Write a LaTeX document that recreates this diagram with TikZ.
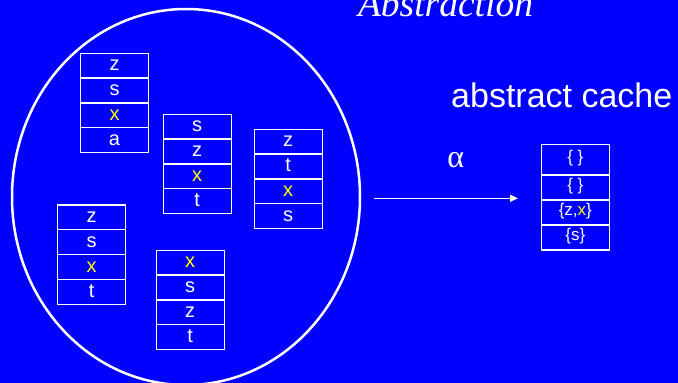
\documentclass[tikz,border=0pt]{standalone}
\usepackage{fontspec}
\setmainfont{Liberation Sans}
\newfontfamily\seriffont{Liberation Serif}
\usetikzlibrary{arrows.meta,shapes.geometric}
\definecolor{bg}{RGB}{0,0,255}
\definecolor{hl}{RGB}{255,255,0}
\begin{document}
\begin{tikzpicture}[x=1pt,y=-1pt,
  cell/.style={draw=white,line width=1.3pt,minimum width=68pt,minimum height=24.8pt,
    inner sep=0pt,outer sep=0pt,text=white,font=\fontsize{20}{20}\selectfont,
    text height=10.4pt,text depth=0pt},
  ccell/.style={cell,minimum height=25pt,font=\fontsize{17}{17}\selectfont,
    text height=8pt,text depth=2pt},
  hx/.style={text=hl}]
\fill[bg] (0,0) rectangle (678,383);
\useasboundingbox (0,0) rectangle (678,383);

% the set
\node[draw=white,line width=2.5pt,ellipse,minimum width=348pt,minimum height=376pt,inner sep=0pt] (set) at (186,197) {};

% stack 1
\node[cell,anchor=north] (s1a) at (114.5,53.3) {z};
\node[cell,anchor=north] (s1b) at (s1a.south) {s};
\node[cell,anchor=north,hx] (s1c) at (s1b.south) {x};
\node[cell,anchor=north] (s1d) at (s1c.south) {a};
% stack 2
\node[cell,anchor=north] (s2a) at (197.2,114.3) {s};
\node[cell,anchor=north] (s2b) at (s2a.south) {z};
\node[cell,anchor=north,hx] (s2c) at (s2b.south) {x};
\node[cell,anchor=north] (s2d) at (s2c.south) {t};
% stack 3
\node[cell,anchor=north] (s3a) at (288.2,129.3) {z};
\node[cell,anchor=north] (s3b) at (s3a.south) {t};
\node[cell,anchor=north,hx] (s3c) at (s3b.south) {x};
\node[cell,anchor=north] (s3d) at (s3c.south) {s};
% stack 4
\node[cell,anchor=north] (s4a) at (91.7,205) {z};
\node[cell,anchor=north] (s4b) at (s4a.south) {s};
\node[cell,anchor=north,hx] (s4c) at (s4b.south) {x};
\node[cell,anchor=north] (s4d) at (s4c.south) {t};
% stack 5
\node[cell,anchor=north,hx] (s5a) at (190.2,250.3) {x};
\node[cell,anchor=north] (s5b) at (s5a.south) {s};
\node[cell,anchor=north] (s5c) at (s5b.south) {z};
\node[cell,anchor=north] (s5d) at (s5c.south) {t};

% abstract cache
\node[ccell,anchor=north,minimum height=30.7pt] (c1) at (575.3,144.3) {\{ \}};
\node[ccell,anchor=north] (c2) at (c1.south) {\{ \}};
\node[ccell,anchor=north] (c3) at (c2.south) {\{z,\textcolor{hl}{x}\}};
\node[ccell,anchor=north] (c4) at (c3.south) {\{s\}};

% labels
\node[anchor=base,inner sep=0pt,text=white,font=\seriffont\itshape\fontsize{37.5}{37.5}\selectfont] (title) at (445.5,16) {Abstraction};
\node[anchor=base west,inner sep=0pt,text=white,font=\fontsize{34}{34}\selectfont] (lbl) at (451,107) {abstract cache};
\node[anchor=base,inner sep=0pt,text=white,font=\seriffont\fontsize{32}{32}\selectfont] (alpha) at (455.8,167.3) {α};

% abstraction arrow
\coordinate (arrS) at (374,198.3);
\coordinate (arrE) at (518,198.3);
\draw[white,line width=1.3pt,-{Triangle[length=8pt,width=7pt]}] (arrS) -- (arrE);
\end{tikzpicture}
\end{document}
